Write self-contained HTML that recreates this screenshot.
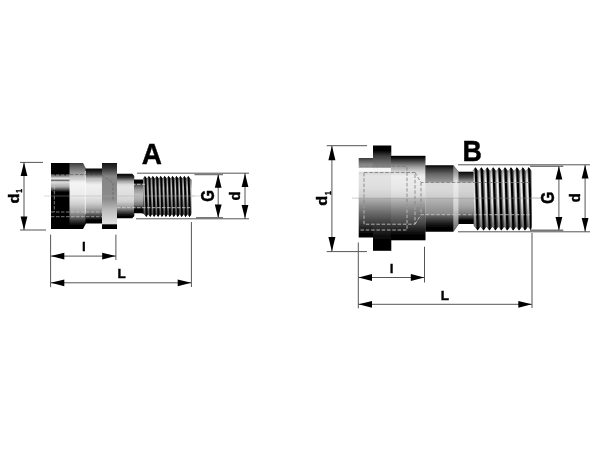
<!DOCTYPE html>
<html><head><meta charset="utf-8"><title>Diagram</title>
<style>
html,body{margin:0;padding:0;background:#fff;}
body{width:600px;height:450px;overflow:hidden;font-family:"Liberation Sans",sans-serif;}
svg{display:block;}
</style></head>
<body>
<svg width="600" height="450" viewBox="0 0 600 450">
<defs>
<filter id="soft" x="-5%" y="-5%" width="110%" height="110%"><feGaussianBlur stdDeviation="0.68"/></filter>
<linearGradient id="a2" gradientUnits="userSpaceOnUse" x1="0" y1="163" x2="0" y2="229"><stop offset="0" stop-color="#3c3c3c"/><stop offset="0.08" stop-color="#6e6e6e"/><stop offset="0.17" stop-color="#a5a5a5"/><stop offset="0.25" stop-color="#dcdcdc"/><stop offset="0.3" stop-color="#f4f4f4"/><stop offset="0.5" stop-color="#ececec"/><stop offset="0.62" stop-color="#d0d0d0"/><stop offset="0.72" stop-color="#aaaaaa"/><stop offset="0.8" stop-color="#787878"/><stop offset="0.88" stop-color="#323232"/><stop offset="0.95" stop-color="#000000"/><stop offset="1" stop-color="#000000"/></linearGradient><linearGradient id="a3" gradientUnits="userSpaceOnUse" x1="0" y1="168.5" x2="0" y2="223.5"><stop offset="0" stop-color="#000000"/><stop offset="0.08" stop-color="#323232"/><stop offset="0.17" stop-color="#a5a5a5"/><stop offset="0.25" stop-color="#dcdcdc"/><stop offset="0.3" stop-color="#f0f0f0"/><stop offset="0.5" stop-color="#e8e8e8"/><stop offset="0.62" stop-color="#d0d0d0"/><stop offset="0.72" stop-color="#aaaaaa"/><stop offset="0.8" stop-color="#787878"/><stop offset="0.88" stop-color="#323232"/><stop offset="0.95" stop-color="#000000"/><stop offset="1" stop-color="#000000"/></linearGradient><linearGradient id="afl" gradientUnits="userSpaceOnUse" x1="0" y1="163" x2="0" y2="229"><stop offset="0" stop-color="#111"/><stop offset="0.08" stop-color="#333"/><stop offset="0.2" stop-color="#858585"/><stop offset="0.55" stop-color="#8c8c8c"/><stop offset="0.72" stop-color="#bdbdbd"/><stop offset="0.9" stop-color="#dedede"/><stop offset="0.925" stop-color="#ddd"/><stop offset="0.935" stop-color="#000"/><stop offset="1" stop-color="#000"/></linearGradient><linearGradient id="a4" gradientUnits="userSpaceOnUse" x1="0" y1="173.8" x2="0" y2="218.3"><stop offset="0" stop-color="#000000"/><stop offset="0.08" stop-color="#323232"/><stop offset="0.17" stop-color="#a5a5a5"/><stop offset="0.25" stop-color="#dcdcdc"/><stop offset="0.3" stop-color="#e4e4e4"/><stop offset="0.5" stop-color="#dcdcdc"/><stop offset="0.62" stop-color="#d0d0d0"/><stop offset="0.72" stop-color="#aaaaaa"/><stop offset="0.8" stop-color="#787878"/><stop offset="0.88" stop-color="#323232"/><stop offset="0.95" stop-color="#000000"/><stop offset="1" stop-color="#000000"/></linearGradient><linearGradient id="a5" gradientUnits="userSpaceOnUse" x1="0" y1="179.5" x2="0" y2="213.5"><stop offset="0" stop-color="#000"/><stop offset="0.09" stop-color="#000"/><stop offset="0.16" stop-color="#555"/><stop offset="0.3" stop-color="#999"/><stop offset="0.45" stop-color="#bcbcbc"/><stop offset="0.6" stop-color="#aaa"/><stop offset="0.75" stop-color="#777"/><stop offset="0.84" stop-color="#222"/><stop offset="0.88" stop-color="#000"/><stop offset="1" stop-color="#000"/></linearGradient><linearGradient id="a1" gradientUnits="userSpaceOnUse" x1="0" y1="163" x2="0" y2="229"><stop offset="0" stop-color="#000"/><stop offset="0.17" stop-color="#000"/><stop offset="0.2" stop-color="#888"/><stop offset="0.235" stop-color="#eee"/><stop offset="0.26" stop-color="#555"/><stop offset="0.285" stop-color="#e0e0e0"/><stop offset="0.36" stop-color="#aaa"/><stop offset="0.44" stop-color="#000"/><stop offset="1" stop-color="#000"/></linearGradient><linearGradient id="ath" gradientUnits="userSpaceOnUse" x1="0" y1="176" x2="0" y2="216.8"><stop offset="0" stop-color="#444"/><stop offset="0.12" stop-color="#888"/><stop offset="0.3" stop-color="#d0d0d0"/><stop offset="0.5" stop-color="#c4c4c4"/><stop offset="0.7" stop-color="#909090"/><stop offset="0.88" stop-color="#444"/><stop offset="1" stop-color="#111"/></linearGradient><linearGradient id="ash" x1="0" y1="0" x2="0" y2="1"><stop offset="0" stop-color="#000" stop-opacity="0.5"/><stop offset="0.1" stop-color="#000" stop-opacity="0.2"/><stop offset="0.22" stop-color="#000" stop-opacity="0"/><stop offset="0.55" stop-color="#000" stop-opacity="0.05"/><stop offset="0.8" stop-color="#000" stop-opacity="0.35"/><stop offset="1" stop-color="#000" stop-opacity="0.6"/></linearGradient><linearGradient id="ash2" x1="0" y1="0" x2="0" y2="1"><stop offset="0" stop-color="#000" stop-opacity="0.6"/><stop offset="0.12" stop-color="#000" stop-opacity="0.3"/><stop offset="0.3" stop-color="#000" stop-opacity="0.05"/><stop offset="0.5" stop-color="#000" stop-opacity="0.1"/><stop offset="0.75" stop-color="#000" stop-opacity="0.4"/><stop offset="1" stop-color="#000" stop-opacity="0.7"/></linearGradient><linearGradient id="b1" gradientUnits="userSpaceOnUse" x1="0" y1="158" x2="0" y2="237.5"><stop offset="0.0" stop-color="#3c3c3c"/><stop offset="0.0755" stop-color="#828282"/><stop offset="0.117" stop-color="#969696"/><stop offset="0.1296" stop-color="#f8f8f8"/><stop offset="0.166" stop-color="#f8f8f8"/><stop offset="0.1824" stop-color="#d7d7d7"/><stop offset="0.2264" stop-color="#e4e4e4"/><stop offset="0.3774" stop-color="#dedede"/><stop offset="0.4994" stop-color="#cccccc"/><stop offset="0.5119" stop-color="#b0b0b0"/><stop offset="0.6038" stop-color="#8c8c8c"/><stop offset="0.6855" stop-color="#6c6c6c"/><stop offset="0.7547" stop-color="#545454"/><stop offset="0.8176" stop-color="#3e3e3e"/><stop offset="0.8805" stop-color="#242424"/><stop offset="0.9434" stop-color="#080808"/><stop offset="0.9686" stop-color="#000000"/><stop offset="1.0" stop-color="#000000"/></linearGradient><linearGradient id="bfl" gradientUnits="userSpaceOnUse" x1="0" y1="145.5" x2="0" y2="250.8"><stop offset="0.0" stop-color="#000000"/><stop offset="0.0427" stop-color="#000000"/><stop offset="0.0997" stop-color="#3c3c3c"/><stop offset="0.1567" stop-color="#696969"/><stop offset="0.207" stop-color="#8c8c8c"/><stop offset="0.2165" stop-color="#f5f5f5"/><stop offset="0.2441" stop-color="#f5f5f5"/><stop offset="0.2564" stop-color="#d2d2d2"/><stop offset="0.2896" stop-color="#e4e4e4"/><stop offset="0.4036" stop-color="#dedede"/><stop offset="0.4957" stop-color="#cccccc"/><stop offset="0.5052" stop-color="#b0b0b0"/><stop offset="0.5745" stop-color="#8c8c8c"/><stop offset="0.6363" stop-color="#6c6c6c"/><stop offset="0.6885" stop-color="#545454"/><stop offset="0.736" stop-color="#3e3e3e"/><stop offset="0.8025" stop-color="#242424"/><stop offset="0.8784" stop-color="#080808"/><stop offset="0.9164" stop-color="#000000"/><stop offset="1.0" stop-color="#000000"/></linearGradient><linearGradient id="b2" gradientUnits="userSpaceOnUse" x1="0" y1="155.8" x2="0" y2="240.3"><stop offset="0.0" stop-color="#000000"/><stop offset="0.026" stop-color="#111111"/><stop offset="0.0852" stop-color="#646464"/><stop offset="0.1325" stop-color="#a0a0a0"/><stop offset="0.1799" stop-color="#cccccc"/><stop offset="0.2391" stop-color="#eeeeee"/><stop offset="0.3811" stop-color="#e8e8e8"/><stop offset="0.4959" stop-color="#d6d6d6"/><stop offset="0.5077" stop-color="#bababa"/><stop offset="0.5941" stop-color="#969696"/><stop offset="0.671" stop-color="#767676"/><stop offset="0.7361" stop-color="#5e5e5e"/><stop offset="0.7953" stop-color="#484848"/><stop offset="0.8663" stop-color="#242424"/><stop offset="0.9254" stop-color="#080808"/><stop offset="0.9609" stop-color="#000000"/><stop offset="1.0" stop-color="#000000"/></linearGradient><linearGradient id="b3" gradientUnits="userSpaceOnUse" x1="0" y1="165.3" x2="0" y2="231.7"><stop offset="0.0" stop-color="#000000"/><stop offset="0.0407" stop-color="#282828"/><stop offset="0.131" stop-color="#666666"/><stop offset="0.244" stop-color="#969696"/><stop offset="0.2666" stop-color="#dadada"/><stop offset="0.372" stop-color="#d8d8d8"/><stop offset="0.488" stop-color="#cccccc"/><stop offset="0.503" stop-color="#b6b6b6"/><stop offset="0.613" stop-color="#a0a0a0"/><stop offset="0.7334" stop-color="#888888"/><stop offset="0.756" stop-color="#696969"/><stop offset="0.8238" stop-color="#3c3c3c"/><stop offset="0.8991" stop-color="#111111"/><stop offset="0.9443" stop-color="#000000"/><stop offset="1.0" stop-color="#000000"/></linearGradient><linearGradient id="b4" gradientUnits="userSpaceOnUse" x1="0" y1="171.7" x2="0" y2="224"><stop offset="0.0" stop-color="#000000"/><stop offset="0.044" stop-color="#222222"/><stop offset="0.1013" stop-color="#444444"/><stop offset="0.1874" stop-color="#969696"/><stop offset="0.2161" stop-color="#d8d8d8"/><stop offset="0.3499" stop-color="#d4d4d4"/><stop offset="0.4971" stop-color="#c8c8c8"/><stop offset="0.5163" stop-color="#b8b8b8"/><stop offset="0.6558" stop-color="#a5a5a5"/><stop offset="0.7897" stop-color="#828282"/><stop offset="0.8662" stop-color="#3c3c3c"/><stop offset="0.9331" stop-color="#000000"/><stop offset="1.0" stop-color="#000000"/></linearGradient><linearGradient id="b3c" gradientUnits="userSpaceOnUse" x1="0" y1="165.3" x2="0" y2="231.7"><stop offset="0.0" stop-color="#787878"/><stop offset="0.1009" stop-color="#999999"/><stop offset="0.2666" stop-color="#ebebeb"/><stop offset="0.4925" stop-color="#e1e1e1"/><stop offset="0.6732" stop-color="#c8c8c8"/><stop offset="0.884" stop-color="#888888"/><stop offset="1.0" stop-color="#646464"/></linearGradient><linearGradient id="bth" gradientUnits="userSpaceOnUse" x1="0" y1="167.4" x2="0" y2="230.6"><stop offset="0" stop-color="#555"/><stop offset="0.1" stop-color="#999"/><stop offset="0.3" stop-color="#d4d4d4"/><stop offset="0.5" stop-color="#c4c4c4"/><stop offset="0.7" stop-color="#999"/><stop offset="0.88" stop-color="#555"/><stop offset="1" stop-color="#222"/></linearGradient><linearGradient id="bdash" gradientUnits="userSpaceOnUse" x1="0" y1="160" x2="0" y2="235"><stop offset="0.0" stop-color="#777777"/><stop offset="0.5733" stop-color="#7d7d7d"/><stop offset="0.6933" stop-color="#c8c8c8"/><stop offset="1.0" stop-color="#d7d7d7"/></linearGradient>
</defs>
<rect width="600" height="450" fill="#fff"/>
<g filter="url(#soft)">
<g id="partA">
<rect x="51" y="163" width="19" height="66" fill="url(#a1)"/>
<path d="M69.5 163 L83 163 L86 168.5 L86 223.5 L83 229 L69.5 229 Z" fill="url(#a2)"/>
<rect x="85.5" y="168.5" width="17" height="55" fill="url(#a3)"/>
<path d="M85.3 171 V214" stroke="#fff" stroke-width="0.9" opacity="0.75"/>
<path d="M116.5 173.8 L132.3 173.8 L134.3 176 L134.3 216 L132.3 218.3 L116.5 218.3 Z" fill="url(#a4)"/>
<path d="M134 179.6 L141 179.6 Q144.5 179.6 145.5 177 L145.5 216 Q144.5 213.2 141 213.2 L134 213.2 Z" fill="url(#a5)"/>
<rect x="102" y="163" width="15" height="66" fill="url(#afl)"/>
<clipPath id="ath2c"><path d="M143.20 179.80 L142.94 178.30 L144.90 176.00 L146.87 178.30 L148.83 176.00 L150.80 178.30 L152.76 176.00 L154.73 178.30 L156.69 176.00 L158.66 178.30 L160.62 176.00 L162.59 178.30 L164.55 176.00 L166.52 178.30 L168.48 176.00 L170.45 178.30 L172.41 176.00 L174.38 178.30 L176.34 176.00 L178.31 178.30 L180.27 176.00 L182.24 178.30 L184.20 176.00 L186.17 178.30 L188.13 176.00 L190.09 178.30 L191.60 179.80 L191.60 213.10 L191.40 214.60 L189.43 216.90 L187.47 214.60 L185.50 216.90 L183.54 214.60 L181.57 216.90 L179.61 214.60 L177.64 216.90 L175.68 214.60 L173.71 216.90 L171.75 214.60 L169.78 216.90 L167.82 214.60 L165.85 216.90 L163.89 214.60 L161.92 216.90 L159.96 214.60 L157.99 216.90 L156.03 214.60 L154.06 216.90 L152.10 214.60 L150.13 216.90 L148.17 214.60 L146.20 216.90 L144.24 214.60 L143.20 213.10 Z"/></clipPath>
<g clip-path="url(#ath2c)">
<path d="M143.20 179.80 L142.94 178.30 L144.90 176.00 L146.87 178.30 L148.83 176.00 L150.80 178.30 L152.76 176.00 L154.73 178.30 L156.69 176.00 L158.66 178.30 L160.62 176.00 L162.59 178.30 L164.55 176.00 L166.52 178.30 L168.48 176.00 L170.45 178.30 L172.41 176.00 L174.38 178.30 L176.34 176.00 L178.31 178.30 L180.27 176.00 L182.24 178.30 L184.20 176.00 L186.17 178.30 L188.13 176.00 L190.09 178.30 L191.60 179.80 L191.60 213.10 L191.40 214.60 L189.43 216.90 L187.47 214.60 L185.50 216.90 L183.54 214.60 L181.57 216.90 L179.61 214.60 L177.64 216.90 L175.68 214.60 L173.71 216.90 L171.75 214.60 L169.78 216.90 L167.82 214.60 L165.85 216.90 L163.89 214.60 L161.92 216.90 L159.96 214.60 L157.99 216.90 L156.03 214.60 L154.06 216.90 L152.10 214.60 L150.13 216.90 L148.17 214.60 L146.20 216.90 L144.24 214.60 L143.20 213.10 Z" fill="#9a9a9a"/>
<path d="M142.61 176.0 L143.91 216.9" stroke="#777" stroke-width="0.71" fill="none"/>
<path d="M143.63 176.0 L144.93 216.9" stroke="#e4e4e4" stroke-width="0.85" fill="none"/>
<path d="M141.42 175.0 L142.72 217.9" stroke="#050505" stroke-width="1.9" fill="none"/>
<path d="M146.54 176.0 L147.84 216.9" stroke="#777" stroke-width="0.71" fill="none"/>
<path d="M147.56 176.0 L148.86 216.9" stroke="#e4e4e4" stroke-width="0.85" fill="none"/>
<path d="M145.35 175.0 L146.65 217.9" stroke="#050505" stroke-width="1.9" fill="none"/>
<path d="M150.47 176.0 L151.77 216.9" stroke="#777" stroke-width="0.71" fill="none"/>
<path d="M151.49 176.0 L152.79 216.9" stroke="#e4e4e4" stroke-width="0.85" fill="none"/>
<path d="M149.28 175.0 L150.58 217.9" stroke="#050505" stroke-width="1.9" fill="none"/>
<path d="M154.40 176.0 L155.70 216.9" stroke="#777" stroke-width="0.71" fill="none"/>
<path d="M155.42 176.0 L156.72 216.9" stroke="#e4e4e4" stroke-width="0.85" fill="none"/>
<path d="M153.21 175.0 L154.51 217.9" stroke="#050505" stroke-width="1.9" fill="none"/>
<path d="M158.33 176.0 L159.63 216.9" stroke="#777" stroke-width="0.71" fill="none"/>
<path d="M159.35 176.0 L160.65 216.9" stroke="#e4e4e4" stroke-width="0.85" fill="none"/>
<path d="M157.14 175.0 L158.44 217.9" stroke="#050505" stroke-width="1.9" fill="none"/>
<path d="M162.26 176.0 L163.56 216.9" stroke="#777" stroke-width="0.71" fill="none"/>
<path d="M163.28 176.0 L164.58 216.9" stroke="#e4e4e4" stroke-width="0.85" fill="none"/>
<path d="M161.07 175.0 L162.37 217.9" stroke="#050505" stroke-width="1.9" fill="none"/>
<path d="M166.19 176.0 L167.49 216.9" stroke="#777" stroke-width="0.71" fill="none"/>
<path d="M167.21 176.0 L168.51 216.9" stroke="#e4e4e4" stroke-width="0.85" fill="none"/>
<path d="M165.00 175.0 L166.30 217.9" stroke="#050505" stroke-width="1.9" fill="none"/>
<path d="M170.12 176.0 L171.42 216.9" stroke="#777" stroke-width="0.71" fill="none"/>
<path d="M171.14 176.0 L172.44 216.9" stroke="#e4e4e4" stroke-width="0.85" fill="none"/>
<path d="M168.93 175.0 L170.23 217.9" stroke="#050505" stroke-width="1.9" fill="none"/>
<path d="M174.05 176.0 L175.35 216.9" stroke="#777" stroke-width="0.71" fill="none"/>
<path d="M175.07 176.0 L176.37 216.9" stroke="#e4e4e4" stroke-width="0.85" fill="none"/>
<path d="M172.86 175.0 L174.16 217.9" stroke="#050505" stroke-width="1.9" fill="none"/>
<path d="M177.98 176.0 L179.28 216.9" stroke="#777" stroke-width="0.71" fill="none"/>
<path d="M179.00 176.0 L180.30 216.9" stroke="#e4e4e4" stroke-width="0.85" fill="none"/>
<path d="M176.79 175.0 L178.09 217.9" stroke="#050505" stroke-width="1.9" fill="none"/>
<path d="M181.91 176.0 L183.21 216.9" stroke="#777" stroke-width="0.71" fill="none"/>
<path d="M182.93 176.0 L184.23 216.9" stroke="#e4e4e4" stroke-width="0.85" fill="none"/>
<path d="M180.72 175.0 L182.02 217.9" stroke="#050505" stroke-width="1.9" fill="none"/>
<path d="M185.84 176.0 L187.14 216.9" stroke="#777" stroke-width="0.71" fill="none"/>
<path d="M186.86 176.0 L188.16 216.9" stroke="#e4e4e4" stroke-width="0.85" fill="none"/>
<path d="M184.65 175.0 L185.95 217.9" stroke="#050505" stroke-width="1.9" fill="none"/>
<path d="M189.77 176.0 L191.07 216.9" stroke="#777" stroke-width="0.71" fill="none"/>
<path d="M190.79 176.0 L192.09 216.9" stroke="#e4e4e4" stroke-width="0.85" fill="none"/>
<path d="M188.58 175.0 L189.88 217.9" stroke="#050505" stroke-width="1.9" fill="none"/>
<path d="M193.70 176.0 L195.00 216.9" stroke="#777" stroke-width="0.71" fill="none"/>
<path d="M194.72 176.0 L196.02 216.9" stroke="#e4e4e4" stroke-width="0.85" fill="none"/>
<path d="M192.51 175.0 L193.81 217.9" stroke="#050505" stroke-width="1.9" fill="none"/>
<path d="M143.20 179.80 L142.94 178.30 L144.90 176.00 L146.87 178.30 L148.83 176.00 L150.80 178.30 L152.76 176.00 L154.73 178.30 L156.69 176.00 L158.66 178.30 L160.62 176.00 L162.59 178.30 L164.55 176.00 L166.52 178.30 L168.48 176.00 L170.45 178.30 L172.41 176.00 L174.38 178.30 L176.34 176.00 L178.31 178.30 L180.27 176.00 L182.24 178.30 L184.20 176.00 L186.17 178.30 L188.13 176.00 L190.09 178.30 L191.60 179.80 L191.60 213.10 L191.40 214.60 L189.43 216.90 L187.47 214.60 L185.50 216.90 L183.54 214.60 L181.57 216.90 L179.61 214.60 L177.64 216.90 L175.68 214.60 L173.71 216.90 L171.75 214.60 L169.78 216.90 L167.82 214.60 L165.85 216.90 L163.89 214.60 L161.92 216.90 L159.96 214.60 L157.99 216.90 L156.03 214.60 L154.06 216.90 L152.10 214.60 L150.13 216.90 L148.17 214.60 L146.20 216.90 L144.24 214.60 L143.20 213.10 Z" fill="url(#ash2)"/>
</g>
<g stroke="#ddd" stroke-width="0.8" fill="none" stroke-dasharray="3.5 1.5" opacity="0.7"><path d="M51 175 H70"/><path d="M70 174.6 H102" stroke="#444"/><path d="M51 212 H102"/><path d="M51 216.7 H102"/><path d="M54.3 181 V212"/></g>
<path d="M51 179 H102" stroke="#ccc" stroke-width="0.9"/>
<g stroke="#666" stroke-width="0.8" fill="none" stroke-dasharray="3 1.5"><path d="M102 175 L113 183 V201"/></g>
<g stroke="#ddd" stroke-width="0.8" fill="none" stroke-dasharray="3.5 1.5"><path d="M117 184.3 H145"/><path d="M117 207.7 H190"/></g>
<path d="M44 196 H195" stroke="#aaa" stroke-width="0.6" opacity="0.7"/>
</g>
<g id="partB">
<rect x="358.7" y="158" width="15" height="79.5" fill="url(#b1)"/>
<rect x="373" y="145.5" width="18.3" height="105.3" fill="url(#bfl)"/>
<rect x="391" y="155.8" width="34.5" height="84.5" fill="url(#b2)"/>
<path d="M425.3 165.3 L453.3 165.3 L458.7 171.7 L458.7 224 L453.3 231.7 L425.3 231.7 Z" fill="url(#b3)"/>
<path d="M453.3 165.3 L458.7 171.7 L458.7 224 L453.3 231.7 Z" fill="url(#b3c)"/>
<rect x="458.5" y="171.7" width="16" height="52.3" fill="url(#b4)"/>
<clipPath id="bth2c"><path d="M473.70 172.20 L472.34 170.70 L475.30 167.30 L478.26 170.70 L481.23 167.30 L484.19 170.70 L487.16 167.30 L490.12 170.70 L493.09 167.30 L496.06 170.70 L499.02 167.30 L501.98 170.70 L504.95 167.30 L507.91 170.70 L510.88 167.30 L513.85 170.70 L516.81 167.30 L519.78 170.70 L522.74 167.30 L525.71 170.70 L528.67 167.30 L531.60 170.70 L531.60 172.20 L531.60 225.50 L531.60 227.00 L530.87 230.40 L527.91 227.00 L524.94 230.40 L521.98 227.00 L519.01 230.40 L516.05 227.00 L513.08 230.40 L510.11 227.00 L507.15 230.40 L504.19 227.00 L501.22 230.40 L498.25 227.00 L495.29 230.40 L492.32 227.00 L489.36 230.40 L486.39 227.00 L483.43 230.40 L480.46 227.00 L477.50 230.40 L474.54 227.00 L473.70 225.50 Z"/></clipPath>
<g clip-path="url(#bth2c)">
<path d="M473.70 172.20 L472.34 170.70 L475.30 167.30 L478.26 170.70 L481.23 167.30 L484.19 170.70 L487.16 167.30 L490.12 170.70 L493.09 167.30 L496.06 170.70 L499.02 167.30 L501.98 170.70 L504.95 167.30 L507.91 170.70 L510.88 167.30 L513.85 170.70 L516.81 167.30 L519.78 170.70 L522.74 167.30 L525.71 170.70 L528.67 167.30 L531.60 170.70 L531.60 172.20 L531.60 225.50 L531.60 227.00 L530.87 230.40 L527.91 227.00 L524.94 230.40 L521.98 227.00 L519.01 230.40 L516.05 227.00 L513.08 230.40 L510.11 227.00 L507.15 230.40 L504.19 227.00 L501.22 230.40 L498.25 227.00 L495.29 230.40 L492.32 227.00 L489.36 230.40 L486.39 227.00 L483.43 230.40 L480.46 227.00 L477.50 230.40 L474.54 227.00 L473.70 225.50 Z" fill="#aaa"/>
<path d="M471.41 167.3 L473.61 230.4" stroke="#777" stroke-width="1.27" fill="none"/>
<path d="M473.22 167.3 L475.42 230.4" stroke="#f2f2f2" stroke-width="1.63" fill="none"/>
<path d="M469.82 166.3 L472.02 231.4" stroke="#050505" stroke-width="2.3" fill="none"/>
<path d="M477.34 167.3 L479.54 230.4" stroke="#777" stroke-width="1.27" fill="none"/>
<path d="M479.15 167.3 L481.35 230.4" stroke="#f2f2f2" stroke-width="1.63" fill="none"/>
<path d="M475.75 166.3 L477.95 231.4" stroke="#050505" stroke-width="2.3" fill="none"/>
<path d="M483.27 167.3 L485.47 230.4" stroke="#777" stroke-width="1.27" fill="none"/>
<path d="M485.08 167.3 L487.28 230.4" stroke="#f2f2f2" stroke-width="1.63" fill="none"/>
<path d="M481.68 166.3 L483.88 231.4" stroke="#050505" stroke-width="2.3" fill="none"/>
<path d="M489.20 167.3 L491.40 230.4" stroke="#777" stroke-width="1.27" fill="none"/>
<path d="M491.01 167.3 L493.21 230.4" stroke="#f2f2f2" stroke-width="1.63" fill="none"/>
<path d="M487.61 166.3 L489.81 231.4" stroke="#050505" stroke-width="2.3" fill="none"/>
<path d="M495.13 167.3 L497.33 230.4" stroke="#777" stroke-width="1.27" fill="none"/>
<path d="M496.94 167.3 L499.14 230.4" stroke="#f2f2f2" stroke-width="1.63" fill="none"/>
<path d="M493.54 166.3 L495.74 231.4" stroke="#050505" stroke-width="2.3" fill="none"/>
<path d="M501.06 167.3 L503.26 230.4" stroke="#777" stroke-width="1.27" fill="none"/>
<path d="M502.87 167.3 L505.07 230.4" stroke="#f2f2f2" stroke-width="1.63" fill="none"/>
<path d="M499.47 166.3 L501.67 231.4" stroke="#050505" stroke-width="2.3" fill="none"/>
<path d="M506.99 167.3 L509.19 230.4" stroke="#777" stroke-width="1.27" fill="none"/>
<path d="M508.80 167.3 L511.00 230.4" stroke="#f2f2f2" stroke-width="1.63" fill="none"/>
<path d="M505.40 166.3 L507.60 231.4" stroke="#050505" stroke-width="2.3" fill="none"/>
<path d="M512.92 167.3 L515.12 230.4" stroke="#777" stroke-width="1.27" fill="none"/>
<path d="M514.73 167.3 L516.93 230.4" stroke="#f2f2f2" stroke-width="1.63" fill="none"/>
<path d="M511.33 166.3 L513.53 231.4" stroke="#050505" stroke-width="2.3" fill="none"/>
<path d="M518.85 167.3 L521.05 230.4" stroke="#777" stroke-width="1.27" fill="none"/>
<path d="M520.66 167.3 L522.86 230.4" stroke="#f2f2f2" stroke-width="1.63" fill="none"/>
<path d="M517.26 166.3 L519.46 231.4" stroke="#050505" stroke-width="2.3" fill="none"/>
<path d="M524.78 167.3 L526.98 230.4" stroke="#777" stroke-width="1.27" fill="none"/>
<path d="M526.59 167.3 L528.79 230.4" stroke="#f2f2f2" stroke-width="1.63" fill="none"/>
<path d="M523.19 166.3 L525.39 231.4" stroke="#050505" stroke-width="2.3" fill="none"/>
<path d="M530.71 167.3 L532.91 230.4" stroke="#777" stroke-width="1.27" fill="none"/>
<path d="M532.52 167.3 L534.72 230.4" stroke="#f2f2f2" stroke-width="1.63" fill="none"/>
<path d="M529.12 166.3 L531.32 231.4" stroke="#050505" stroke-width="2.3" fill="none"/>
<path d="M536.64 167.3 L538.84 230.4" stroke="#777" stroke-width="1.27" fill="none"/>
<path d="M538.45 167.3 L540.65 230.4" stroke="#f2f2f2" stroke-width="1.63" fill="none"/>
<path d="M535.05 166.3 L537.25 231.4" stroke="#050505" stroke-width="2.3" fill="none"/>
<path d="M473.70 172.20 L472.34 170.70 L475.30 167.30 L478.26 170.70 L481.23 167.30 L484.19 170.70 L487.16 167.30 L490.12 170.70 L493.09 167.30 L496.06 170.70 L499.02 167.30 L501.98 170.70 L504.95 167.30 L507.91 170.70 L510.88 167.30 L513.85 170.70 L516.81 167.30 L519.78 170.70 L522.74 167.30 L525.71 170.70 L528.67 167.30 L531.60 170.70 L531.60 172.20 L531.60 225.50 L531.60 227.00 L530.87 230.40 L527.91 227.00 L524.94 230.40 L521.98 227.00 L519.01 230.40 L516.05 227.00 L513.08 230.40 L510.11 227.00 L507.15 230.40 L504.19 227.00 L501.22 230.40 L498.25 227.00 L495.29 230.40 L492.32 227.00 L489.36 230.40 L486.39 227.00 L483.43 230.40 L480.46 227.00 L477.50 230.40 L474.54 227.00 L473.70 225.50 Z" fill="url(#ash)"/>
</g>
<g stroke="url(#bdash)" stroke-width="0.8" fill="none" stroke-dasharray="3.5 1.8"><path d="M360 166.3 H407 V230 H360"/><path d="M364 172.5 H415 V224.2 H364 Z"/><path d="M415 172.5 L421 182.5 H531"/><path d="M415 224.2 L421 214.7 H531"/><path d="M421 182.5 V214.7"/></g>
<path d="M352 198.2 H542" stroke="#888" stroke-width="0.6" opacity="0.7"/>
</g>
<g id="dims">
<path d="M20 162.4 H43 M20 230 H46 M24 162.4 V230" stroke="#555" stroke-width="1" fill="none"/>
<polygon points="24,162.4 20.6,175.9 27.4,175.9" fill="#000"/>
<polygon points="24,230 20.6,216.5 27.4,216.5" fill="#000"/>
<path d="M137 173.2 H249 M136 218.8 H249 M245 173.2 V218.8 M218.2 174.5 V217.6" stroke="#555" stroke-width="1" fill="none"/>
<path d="M194.5 174.5 H223 M196 217.7 H223" stroke="#777" stroke-width="1.6" fill="none"/>
<polygon points="218.2,174.3 214.79999999999998,187.8 221.6,187.8" fill="#000"/>
<polygon points="218.2,218 214.79999999999998,204.5 221.6,204.5" fill="#000"/>
<polygon points="245,173.4 241.6,186.9 248.4,186.9" fill="#000"/>
<polygon points="245,218.6 241.6,205.1 248.4,205.1" fill="#000"/>
<path d="M192 196 H200" stroke="#ccc" stroke-width="0.7"/>
<path d="M50.6 234.6 V287.2 M115.9 234.6 V260 M191.4 222 V287 M50.6 256.1 H115.9 M50.6 282.8 H191.4" stroke="#555" stroke-width="1" fill="none"/>
<polygon points="50.8,256.1 64.3,252.70000000000002 64.3,259.5" fill="#000"/>
<polygon points="115.7,256.1 102.2,252.70000000000002 102.2,259.5" fill="#000"/>
<polygon points="50.8,282.8 64.3,279.40000000000003 64.3,286.2" fill="#000"/>
<polygon points="191.2,282.8 177.7,279.40000000000003 177.7,286.2" fill="#000"/>
<path d="M326.7 145.7 H367 M326.7 251.6 H367 M331.9 145.7 V251.6" stroke="#555" stroke-width="1" fill="none"/>
<polygon points="331.9,145.7 328.4,160.2 335.4,160.2" fill="#000"/>
<polygon points="331.9,251.6 328.4,237.1 335.4,237.1" fill="#000"/>
<path d="M458 164.8 H590 M458 231.8 H590 M585.1 164.8 V231.8 M558.9 166 V230.5" stroke="#555" stroke-width="1" fill="none"/>
<path d="M530 166.2 H563.3 M530 230.4 H563.3" stroke="#777" stroke-width="1.6" fill="none"/>
<polygon points="558.9,166 555.5,179.5 562.3,179.5" fill="#000"/>
<polygon points="558.9,230.6 555.5,217.1 562.3,217.1" fill="#000"/>
<polygon points="585.1,165 581.7,178.5 588.5,178.5" fill="#000"/>
<polygon points="585.1,231.6 581.7,218.1 588.5,218.1" fill="#000"/>
<path d="M532 197.8 H541" stroke="#ccc" stroke-width="0.7"/>
<path d="M358.3 242.5 V308.3 M424.5 246.7 V282.5 M532 233 V308 M358.3 277.5 H424.5 M358.3 304.3 H532" stroke="#555" stroke-width="1" fill="none"/>
<polygon points="358.5,277.5 372.0,274.1 372.0,280.9" fill="#000"/>
<polygon points="424.3,277.5 410.8,274.1 410.8,280.9" fill="#000"/>
<polygon points="358.5,304.3 372.0,300.90000000000003 372.0,307.7" fill="#000"/>
<polygon points="531.8,304.3 518.3,300.90000000000003 518.3,307.7" fill="#000"/>
</g>
<g id="labels">
<text transform="translate(151.9 163.7) scale(1 1.04)" font-size="28" text-anchor="middle" font-family="Liberation Sans, sans-serif" font-weight="bold" fill="#000" stroke="#000" stroke-width="0.4">A</text>
<text transform="translate(472.2 161.3) scale(0.96 1.055)" font-size="28" text-anchor="middle" font-family="Liberation Sans, sans-serif" font-weight="bold" fill="#000" stroke="#000" stroke-width="0.4">B</text>
<text x="84" y="251.1" font-size="13.5" text-anchor="middle" font-family="Liberation Sans, sans-serif" font-weight="bold" fill="#000" stroke="#000" stroke-width="0.4">l</text>
<text x="121.5" y="277.9" font-size="13.5" text-anchor="middle" font-family="Liberation Sans, sans-serif" font-weight="bold" fill="#000" stroke="#000" stroke-width="0.4">L</text>
<text x="391.7" y="272.6" font-size="13.5" text-anchor="middle" font-family="Liberation Sans, sans-serif" font-weight="bold" fill="#000" stroke="#000" stroke-width="0.4">l</text>
<text x="444.8" y="299.7" font-size="13.5" text-anchor="middle" font-family="Liberation Sans, sans-serif" font-weight="bold" fill="#000" stroke="#000" stroke-width="0.4">L</text>
<text transform="translate(213.6 195.9) rotate(-90) scale(1.0 1.2)" font-size="15" text-anchor="middle" font-family="Liberation Sans, sans-serif" font-weight="bold" fill="#000" stroke="#000" stroke-width="0.4">G</text>
<text transform="translate(240.0 196.0) rotate(-90) scale(1.05 1.05)" font-size="14" text-anchor="middle" font-family="Liberation Sans, sans-serif" font-weight="bold" fill="#000" stroke="#000" stroke-width="0.4">d</text>
<text transform="translate(554.2 197.8) rotate(-90) scale(1.05 1.2)" font-size="15" text-anchor="middle" font-family="Liberation Sans, sans-serif" font-weight="bold" fill="#000" stroke="#000" stroke-width="0.4">G</text>
<text transform="translate(580.2 197.8) rotate(-90) scale(1.1 1.05)" font-size="14" text-anchor="middle" font-family="Liberation Sans, sans-serif" font-weight="bold" fill="#000" stroke="#000" stroke-width="0.4">d</text>
<text transform="translate(19.0 198.4) rotate(-90) scale(1.17 1.0)" font-size="14" text-anchor="middle" font-family="Liberation Sans, sans-serif" font-weight="bold" fill="#000" stroke="#000" stroke-width="0.4">d</text>
<text transform="translate(22.3 190.9) rotate(-90) scale(0.7 1.0)" font-size="9.5" text-anchor="middle" font-family="Liberation Sans, sans-serif" font-weight="bold" fill="#000" stroke="#000" stroke-width="0.4">1</text>
<text transform="translate(326.9 200.8) rotate(-90) scale(1.17 1.0)" font-size="14" text-anchor="middle" font-family="Liberation Sans, sans-serif" font-weight="bold" fill="#000" stroke="#000" stroke-width="0.4">d</text>
<text transform="translate(330.5 193.2) rotate(-90) scale(0.7 1.0)" font-size="9.5" text-anchor="middle" font-family="Liberation Sans, sans-serif" font-weight="bold" fill="#000" stroke="#000" stroke-width="0.4">1</text>
</g>
</g>
</svg>
</body></html>
